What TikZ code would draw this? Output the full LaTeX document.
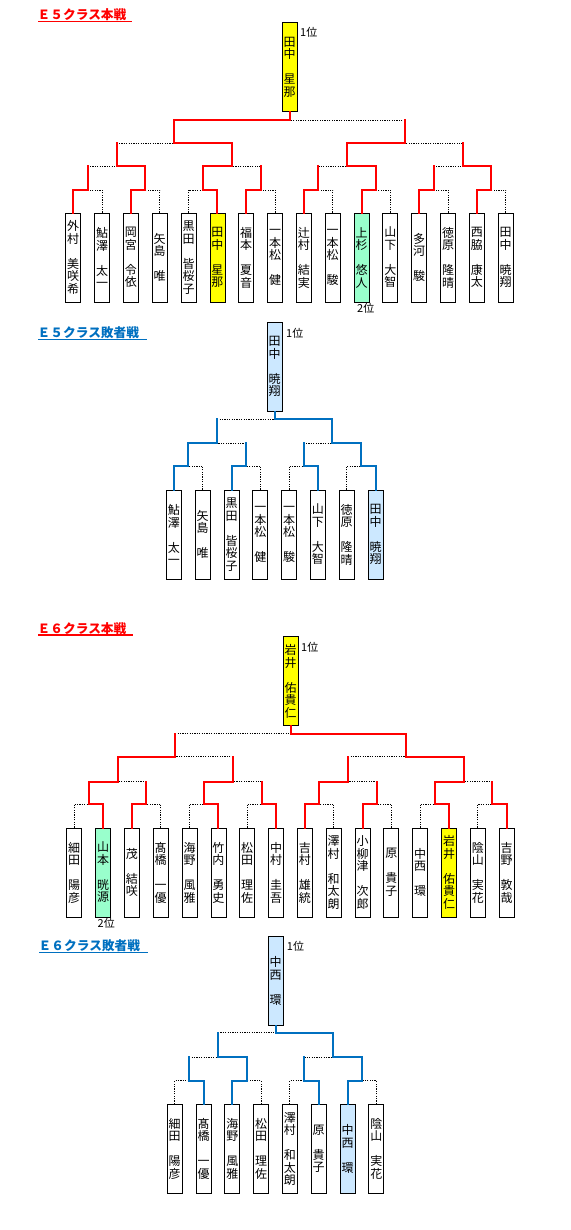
\documentclass[tikz,border=0pt]{standalone}
\usepackage{fontspec}
\setmainfont{Noto Sans CJK JP}
\newfontfamily\titlefont{Noto Sans CJK JP}
\definecolor{wred}{HTML}{FF0000}
\definecolor{wblue}{HTML}{0070C0}
\definecolor{lblue}{HTML}{CCE8FF}
\definecolor{mint}{HTML}{99FFCC}
\definecolor{ylw}{HTML}{FFFF00}
\pgfdeclarelayer{bgl}
\pgfdeclarelayer{dots}
\pgfsetlayers{bgl,dots,main}
\newcommand\namefont{\fontsize{12}{12.5}\selectfont}
\newcommand\winseg[2]{\draw[win] (#1) |- (#2);}
\newcommand\loseleaf[2]{\begin{pgfonlayer}{dots}\draw[lose] (#1) |- (#2);\end{pgfonlayer}}
\newcommand\loseint[2]{\begin{pgfonlayer}{dots}\draw[lose] (#1 |- #2) -- (#2);\end{pgfonlayer}\draw[win] (#1) -- (#1 |- #2);}
\begin{document}
\begin{tikzpicture}[x=1pt,y=-1pt,
 box/.style={draw=black,line width=0.8pt,fill=white,minimum width=15pt,minimum height=89pt,inner sep=0pt,align=center,font=\namefont},
 win/.style={draw=wred,line width=2pt,line cap=rect},
 lose/.style={draw=black,line width=0.9pt,dash pattern=on 1.2pt off 1.2pt},
 rank/.style={font=\fontsize{11}{12}\selectfont,inner sep=0pt,anchor=west},
 ttl/.style={font=\titlefont\bfseries\fontsize{12.7}{14}\selectfont,inner sep=0pt,anchor=base west}]
\begin{pgfonlayer}{bgl}
\fill[white] (0,0) rectangle (570,1230);
\end{pgfonlayer}
\useasboundingbox (0,0) rectangle (570,1230);

% ================= E5 main =================
\node[ttl,text=wred] (t1) at (37.5,20) {Ｅ５クラス本戦};
\draw[wred,line width=1.2pt] (38,21.8) -- (132,21.8);
\node[box,fill=ylw] (aW) at (289.5,67) {田\\中\\[12.5pt]星\\那};
\node[rank] (aR1) at (300,32) {1位};
\node[box] (aL1) at (73.2,257.5) {外\\村\\[12.5pt]美\\咲\\希};
\node[box] (aL2) at (102.0,257.5) {鮎\\澤\\[12.5pt]太\\一};
\node[box] (aL3) at (130.9,257.5) {岡\\宮\\[12.5pt]令\\依};
\node[box] (aL4) at (159.7,257.5) {矢\\島\\[12.5pt]唯};
\node[box] (aL5) at (188.5,257.5) {黒\\田\\[12.5pt]皆\\桜\\子};
\node[box,fill=ylw] (aL6) at (217.4,257.5) {田\\中\\[12.5pt]星\\那};
\node[box] (aL7) at (246.2,257.5) {福\\本\\[12.5pt]夏\\音};
\node[box] (aL8) at (275.0,257.5) {一\\本\\松\\[12.5pt]健};
\node[box] (aL9) at (303.8,257.5) {辻\\村\\[12.5pt]結\\実};
\node[box] (aL10) at (332.7,257.5) {一\\本\\松\\[12.5pt]駿};
\node[box,fill=mint] (aL11) at (361.5,257.5) {上\\杉\\[12.5pt]悠\\人};
\node[box] (aL12) at (390.3,257.5) {山\\下\\[12.5pt]大\\智};
\node[box] (aL13) at (419.2,257.5) {多\\河\\[12.5pt]駿};
\node[box] (aL14) at (448.0,257.5) {徳\\原\\[12.5pt]隆\\晴};
\node[box] (aL15) at (476.9,257.5) {西\\脇\\[12.5pt]康\\太};
\node[box] (aL16) at (505.7,257.5) {田\\中\\[12.5pt]暁\\翔};
\node[rank] (aR2) at (357,308) {2位};
\coordinate (a11) at (87.6,190);
\coordinate (a12) at (145.3,190);
\coordinate (a13) at (203.0,190);
\coordinate (a14) at (260.6,190);
\coordinate (a15) at (318.3,190);
\coordinate (a16) at (375.9,190);
\coordinate (a17) at (433.6,190);
\coordinate (a18) at (491.3,190);
\coordinate (a21) at (116.5,166.5);
\coordinate (a22) at (231.8,166.5);
\coordinate (a23) at (347.1,166.5);
\coordinate (a24) at (462.5,166.5);
\coordinate (a31) at (174.1,143);
\coordinate (a32) at (404.8,143);
\coordinate (aF) at (289.5,120);
\winseg{aL1.north}{a11} \loseleaf{aL2.north}{a11}
\winseg{aL3.north}{a12} \loseleaf{aL4.north}{a12}
\loseleaf{aL5.north}{a13} \winseg{aL6.north}{a13}
\winseg{aL7.north}{a14} \loseleaf{aL8.north}{a14}
\winseg{aL9.north}{a15} \loseleaf{aL10.north}{a15}
\winseg{aL11.north}{a16} \loseleaf{aL12.north}{a16}
\winseg{aL13.north}{a17} \loseleaf{aL14.north}{a17}
\winseg{aL15.north}{a18} \loseleaf{aL16.north}{a18}
\loseint{a11}{a21} \winseg{a12}{a21}
\winseg{a13}{a22} \loseint{a14}{a22}
\loseint{a15}{a23} \winseg{a16}{a23}
\loseint{a17}{a24} \winseg{a18}{a24}
\loseint{a21}{a31} \winseg{a22}{a31}
\winseg{a23}{a32} \loseint{a24}{a32}
\winseg{a31}{aF} \loseint{a32}{aF}
\draw[win] (aW.south) -- (aF);

% ================= E5 consolation =================
\begin{scope}[win/.style={draw=wblue,line width=2pt,line cap=rect}]
\node[ttl,text=wblue] (t2) at (37.5,337.5) {Ｅ５クラス敗者戦};
\draw[wblue,line width=1.2pt] (38,339.5) -- (147,339.5);
\node[box,fill=lblue] (bW) at (274.7,366.7) {田\\中\\[12.5pt]暁\\翔};
\node[rank] (bR1) at (286,333) {1位};
\node[box] (bL1) at (173.9,534.5) {鮎\\澤\\[12.5pt]太\\一};
\node[box] (bL2) at (202.7,534.5) {矢\\島\\[12.5pt]唯};
\node[box] (bL3) at (231.5,534.5) {黒\\田\\[12.5pt]皆\\桜\\子};
\node[box] (bL4) at (260.3,534.5) {一\\本\\松\\[12.5pt]健};
\node[box] (bL5) at (289.1,534.5) {一\\本\\松\\[12.5pt]駿};
\node[box] (bL6) at (317.9,534.5) {山\\下\\[12.5pt]大\\智};
\node[box] (bL7) at (346.7,534.5) {徳\\原\\[12.5pt]隆\\晴};
\node[box,fill=lblue] (bL8) at (375.5,534.5) {田\\中\\[12.5pt]暁\\翔};
\coordinate (b11) at (188.3,466);
\coordinate (b12) at (245.9,466);
\coordinate (b13) at (303.5,466);
\coordinate (b14) at (361.1,466);
\coordinate (b21) at (217.1,443.3);
\coordinate (b22) at (332.3,443.3);
\coordinate (bF) at (274.7,419);
\winseg{bL1.north}{b11} \loseleaf{bL2.north}{b11}
\winseg{bL3.north}{b12} \loseleaf{bL4.north}{b12}
\loseleaf{bL5.north}{b13} \winseg{bL6.north}{b13}
\loseleaf{bL7.north}{b14} \winseg{bL8.north}{b14}
\winseg{b11}{b21} \loseint{b12}{b21}
\loseint{b13}{b22} \winseg{b14}{b22}
\loseint{b21}{bF} \winseg{b22}{bF}
\draw[win] (bW.south) -- (bF);
\end{scope}

% ================= E6 main =================
\node[ttl,text=wred] (t3) at (37.5,633) {Ｅ６クラス本戦};
\draw[wred,line width=1.2pt] (38,635) -- (132.5,635);
\node[box,fill=ylw] (cW) at (290.5,681.3) {岩\\井\\[12.5pt]佑\\貴\\仁};
\node[rank] (cR1) at (301,647) {1位};
\node[box] (cL1) at (74.2,872.5) {細\\田\\[12.5pt]陽\\彦};
\node[box,fill=mint] (cL2) at (103.0,872.5) {山\\本\\[12.5pt]晄\\源};
\node[box] (cL3) at (131.9,872.5) {茂\\[12.5pt]結\\咲};
\node[box] (cL4) at (160.7,872.5) {髙\\橋\\[12.5pt]一\\優};
\node[box] (cL5) at (189.5,872.5) {海\\野\\[12.5pt]風\\雅};
\node[box] (cL6) at (218.4,872.5) {竹\\内\\[12.5pt]勇\\史};
\node[box] (cL7) at (247.2,872.5) {松\\田\\[12.5pt]理\\佐};
\node[box] (cL8) at (276.0,872.5) {中\\村\\[12.5pt]圭\\吾};
\node[box] (cL9) at (304.8,872.5) {吉\\村\\[12.5pt]雄\\統};
\node[box] (cL10) at (333.7,872.5) {澤\\村\\[12.5pt]和\\太\\朗};
\node[box] (cL11) at (362.5,872.5) {小\\柳\\津\\[12.5pt]次\\郎};
\node[box] (cL12) at (391.3,872.5) {原\\[12.5pt]貴\\子};
\node[box] (cL13) at (420.2,872.5) {中\\西\\[12.5pt]環};
\node[box,fill=ylw] (cL14) at (449.0,872.5) {岩\\井\\[12.5pt]佑\\貴\\仁};
\node[box] (cL15) at (477.9,872.5) {陰\\山\\[12.5pt]実\\花};
\node[box] (cL16) at (506.7,872.5) {吉\\野\\[12.5pt]敦\\哉};
\node[rank] (cR2) at (97.5,923.5) {2位};
\coordinate (c11) at (88.6,804);
\coordinate (c12) at (146.3,804);
\coordinate (c13) at (204.0,804);
\coordinate (c14) at (261.6,804);
\coordinate (c15) at (319.3,804);
\coordinate (c16) at (376.9,804);
\coordinate (c17) at (434.6,804);
\coordinate (c18) at (492.3,804);
\coordinate (c21) at (117.5,781.7);
\coordinate (c22) at (232.8,781.7);
\coordinate (c23) at (348.1,781.7);
\coordinate (c24) at (463.5,781.7);
\coordinate (c31) at (175.1,756.7);
\coordinate (c32) at (405.8,756.7);
\coordinate (cF) at (290.5,733.5);
\loseleaf{cL1.north}{c11} \winseg{cL2.north}{c11}
\winseg{cL3.north}{c12} \loseleaf{cL4.north}{c12}
\loseleaf{cL5.north}{c13} \winseg{cL6.north}{c13}
\loseleaf{cL7.north}{c14} \winseg{cL8.north}{c14}
\winseg{cL9.north}{c15} \loseleaf{cL10.north}{c15}
\winseg{cL11.north}{c16} \loseleaf{cL12.north}{c16}
\loseleaf{cL13.north}{c17} \winseg{cL14.north}{c17}
\loseleaf{cL15.north}{c18} \winseg{cL16.north}{c18}
\winseg{c11}{c21} \loseint{c12}{c21}
\winseg{c13}{c22} \loseint{c14}{c22}
\winseg{c15}{c23} \loseint{c16}{c23}
\winseg{c17}{c24} \loseint{c18}{c24}
\winseg{c21}{c31} \loseint{c22}{c31}
\loseint{c23}{c32} \winseg{c24}{c32}
\loseint{c31}{cF} \winseg{c32}{cF}
\draw[win] (cW.south) -- (cF);

% ================= E6 consolation =================
\begin{scope}[win/.style={draw=wblue,line width=2pt,line cap=rect}]
\node[ttl,text=wblue] (t4) at (38.5,950.8) {Ｅ６クラス敗者戦};
\draw[wblue,line width=1.2pt] (39,952.8) -- (148.3,952.8);
\node[box,fill=lblue] (dW) at (275.5,980.8) {中\\西\\[12.5pt]環};
\node[rank] (dR1) at (286.7,946.5) {1位};
\node[box] (dL1) at (174.7,1148.8) {細\\田\\[12.5pt]陽\\彦};
\node[box] (dL2) at (203.5,1148.8) {髙\\橋\\[12.5pt]一\\優};
\node[box] (dL3) at (232.3,1148.8) {海\\野\\[12.5pt]風\\雅};
\node[box] (dL4) at (261.1,1148.8) {松\\田\\[12.5pt]理\\佐};
\node[box] (dL5) at (289.9,1148.8) {澤\\村\\[12.5pt]和\\太\\朗};
\node[box] (dL6) at (318.7,1148.8) {原\\[12.5pt]貴\\子};
\node[box,fill=lblue] (dL7) at (347.5,1148.8) {中\\西\\[12.5pt]環};
\node[box] (dL8) at (376.3,1148.8) {陰\\山\\[12.5pt]実\\花};
\coordinate (d11) at (189.1,1080.7);
\coordinate (d12) at (246.7,1080.7);
\coordinate (d13) at (304.3,1080.7);
\coordinate (d14) at (361.9,1080.7);
\coordinate (d21) at (217.9,1057.3);
\coordinate (d22) at (333.1,1057.3);
\coordinate (dF) at (275.5,1032.7);
\loseleaf{dL1.north}{d11} \winseg{dL2.north}{d11}
\winseg{dL3.north}{d12} \loseleaf{dL4.north}{d12}
\loseleaf{dL5.north}{d13} \winseg{dL6.north}{d13}
\winseg{dL7.north}{d14} \loseleaf{dL8.north}{d14}
\loseint{d11}{d21} \winseg{d12}{d21}
\loseint{d13}{d22} \winseg{d14}{d22}
\loseint{d21}{dF} \winseg{d22}{dF}
\draw[win] (dW.south) -- (dF);
\end{scope}
\end{tikzpicture}
\end{document}
